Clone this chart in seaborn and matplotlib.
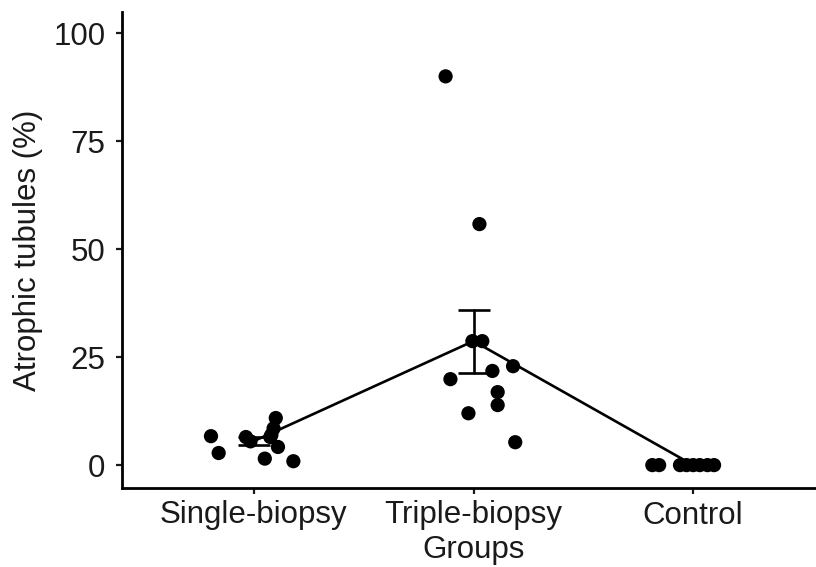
import matplotlib
matplotlib.use("Agg")
import matplotlib.pyplot as plt
import numpy as np
import pandas as pd
import seaborn as sns

# Group names (x categories)
groups = ["Single-biopsy", "Triple-biopsy", "Control"]

# Values (atrophic tubules, %)
single_vals = [6.7, 2.8, 6.5, 5.5, 7.0, 10.9, 8.5, 6.5, 4.2, 1.5, 0.9]
triple_vals = [90.0, 55.8, 28.7, 28.7, 19.9, 21.8, 22.9, 16.9, 13.9, 12.0, 5.3]
control_vals = [0, 0, 0, 0, 0, 0, 0, 0]

# Horizontal jitter of each point as seen in the picture (category units)
single_jit = [-0.195, -0.16, -0.036, -0.015, 0.08, 0.10, 0.09, 0.075, 0.11, 0.05, 0.18]
triple_jit = [-0.127, 0.027, -0.005, 0.04, -0.105, 0.086, 0.18, 0.11, 0.11, -0.023, 0.19]
control_jit = [-0.186, -0.155, -0.06, -0.03, 0.0, 0.03, 0.065, 0.095]

vals = [single_vals, triple_vals, control_vals]
jits = [single_jit, triple_jit, control_jit]
rows = []
for i, g in enumerate(groups):
    for v, j in zip(vals[i], jits[i]):
        rows.append({"group": g, "code": i, "xj": i + j, "value": v})
df = pd.DataFrame(rows)

sns.set_style("ticks")
plt.rcParams["font.family"] = ["Liberation Sans", "DejaVu Sans"]

fig = plt.figure(figsize=(8.16, 5.67), dpi=100)
ax = fig.add_axes([122 / 816, 1 - 488 / 567, 703 / 816, 476 / 567])

# mean line with standard-error bars
sns.lineplot(data=df, x="code", y="value", errorbar="se", err_style="bars",
             color="black", linewidth=1.9, ax=ax,
             err_kws={"capsize": 11.5, "capthick": 1.9, "elinewidth": 1.9})
# raw points
sns.scatterplot(data=df, x="xj", y="value", color="black", s=105,
                edgecolor="none", ax=ax, zorder=3)

ax.set_xlim(-0.6, 2.6)
ax.set_ylim(-5.3, 104.9)
ax.set_xticks(range(len(groups)))
ax.set_xticklabels(groups)
ax.set_yticks([0, 25, 50, 75, 100])

ax.tick_params(axis="both", labelsize=22.5, colors="#1a1a1a", length=4,
               width=1.6, pad=5)
ax.tick_params(axis="y", pad=8)
for s in ["top", "right"]:
    ax.spines[s].set_visible(False)
for s in ["left", "bottom"]:
    ax.spines[s].set_linewidth(2.0)
    ax.spines[s].set_color("black")

ax.set_xlabel("Groups", fontsize=22.5, va="top", color="#1a1a1a")
ax.set_ylabel("Atrophic tubules (%)", fontsize=22.5, color="#1a1a1a")
ax.xaxis.set_label_coords(0.5, -0.098)
ax.yaxis.set_label_coords(-0.112, 0.5)

fig.savefig("out.png", dpi=100)
